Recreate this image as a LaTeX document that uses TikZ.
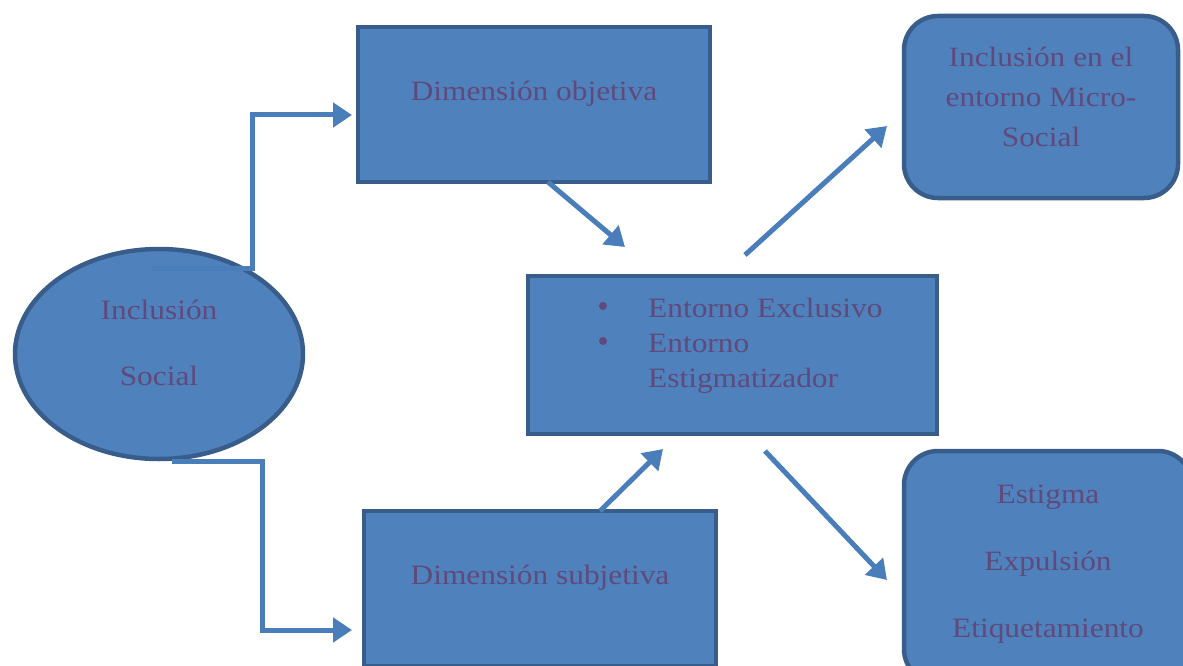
\documentclass[tikz,border=0pt]{standalone}
\usepackage{fontspec}
\setmainfont{Liberation Serif}[FakeStretch=1.12]
\usetikzlibrary{arrows.meta,shapes.geometric}
\definecolor{shapefill}{RGB}{79,129,189}
\definecolor{shapeline}{RGB}{56,93,138}
\definecolor{arrowblue}{RGB}{74,126,187}
\definecolor{labeltext}{RGB}{96,74,123}
\tikzset{
  x=1pt, y=-1pt,
  shapebox/.style={draw=shapeline, fill=shapefill, line width=4.5pt, inner sep=0pt},
  roundbox/.style={shapebox, rounded corners=34pt},
  label text/.style={text=labeltext, inner sep=0pt, align=center},
  flow/.style={draw=arrowblue, line width=5pt,
    -{Triangle[length=19pt,width=24pt]}},
}
\begin{document}
\begin{tikzpicture}
\useasboundingbox (0,0) rectangle (1183,666);
\clip (0,0) rectangle (1183,666);

% shapes
\node[shapebox, ellipse, minimum width=288pt, minimum height=210pt] (social) at (159,354) {};
\node[shapebox, rectangle, minimum width=352pt, minimum height=155pt] (objetiva) at (534,104.5) {};
\node[shapebox, rectangle, minimum width=352pt, minimum height=155pt] (subjetiva) at (540,588.5) {};
\node[shapebox, rectangle, minimum width=409pt, minimum height=158pt] (entorno) at (732.5,355) {};
\node[roundbox, rectangle, minimum width=274pt, minimum height=182pt] (micro) at (1041,107) {};
\node[roundbox, rectangle, minimum width=288pt, minimum height=232pt] (estigma) at (1048,567) {};

% labels
\node[label text, font=\fontsize{28}{66}\selectfont] (socialtxt) at (159,343) {Inclusión\\Social};
\node[label text, font=\fontsize{28}{34}\selectfont] (objtxt) at (534,94) {Dimensión objetiva};
\node[label text, font=\fontsize{28}{34}\selectfont] (subtxt) at (540,578) {Dimensión subjetiva};
\node[label text, font=\fontsize{28}{40}\selectfont] (microtxt) at (1041,97) {Inclusión en el\\entorno Micro-\\Social};
\node[label text, font=\fontsize{28}{67}\selectfont] (estigmatxt) at (1048,564) {Estigma\\Expulsión\\Etiquetamiento};
\node[label text, font=\fontsize{28}{35}\selectfont, anchor=north west, align=left] (entornotxt) at (648,298)
  {Entorno Exclusivo\\Entorno\\Estigmatizador};
% list bullets
\fill[labeltext] (603,306) circle (4pt) (603,341) circle (4pt);

% connectors
\coordinate (s1) at (152,268);
\coordinate (s1a) at (252,268);
\coordinate (s1b) at (252,115);
\coordinate (o1) at (352,115);
\coordinate (s2) at (172,461);
\coordinate (s2a) at (262,461);
\coordinate (s2b) at (262,630);
\coordinate (u1) at (352,630);
\coordinate (oa) at (548,182);
\coordinate (ob) at (625,247);
\coordinate (ua) at (600,511);
\coordinate (ub) at (663,449);
\coordinate (ea) at (745,255);
\coordinate (eb) at (887,126);
\coordinate (ec) at (765,451);
\coordinate (ed) at (887,580);

\draw[flow] (s1) -- (s1a) -- (s1b) -- (o1);
\draw[flow] (s2) -- (s2a) -- (s2b) -- (u1);
\draw[flow] (oa) -- (ob);
\draw[flow] (ua) -- (ub);
\draw[flow] (ea) -- (eb);
\draw[flow] (ec) -- (ed);
\end{tikzpicture}
\end{document}
